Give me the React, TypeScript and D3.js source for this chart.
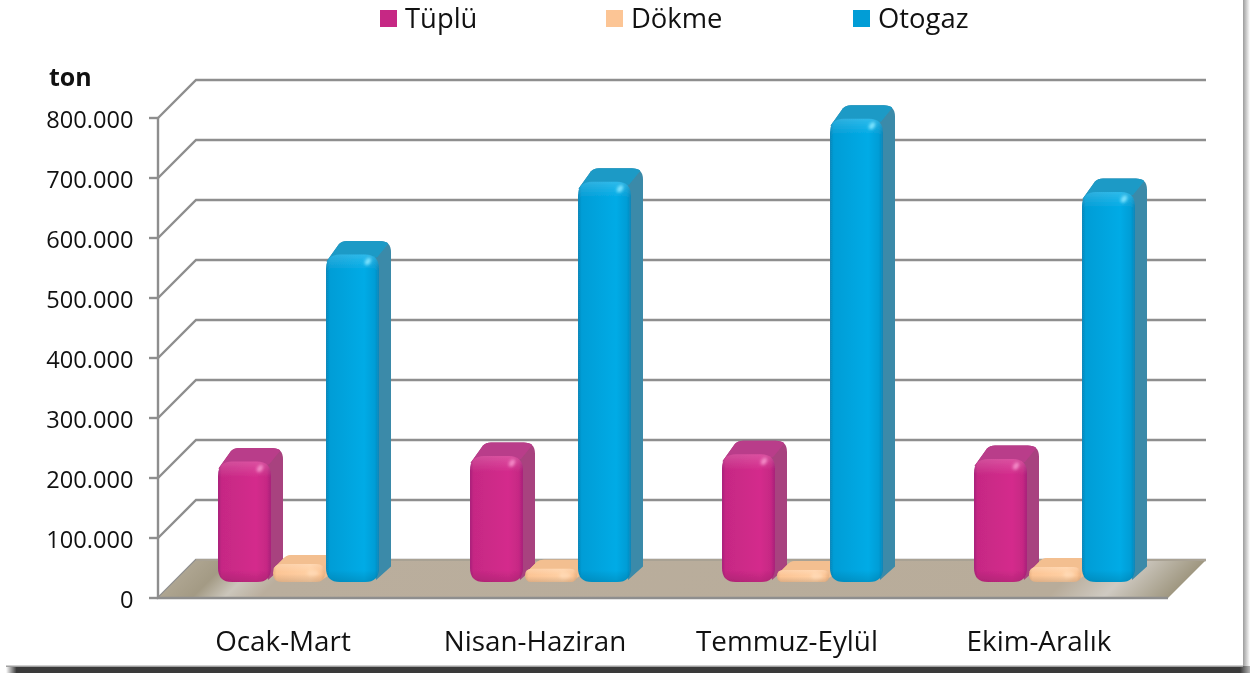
import React from "react";
import * as d3 from "d3";

const categories = ["Ocak-Mart", "Nisan-Haziran", "Temmuz-Eylül", "Ekim-Aralık"];
const seriesNames = ["Tüplü", "Dökme", "Otogaz"];
const tuplu = [201000, 210000, 213000, 205000];
const dokme = [30000, 22000, 20000, 25000];
const otogaz = [546000, 667000, 772000, 650000];
const ticks = [0, 100000, 200000, 300000, 400000, 500000, 600000, 700000, 800000];
const tickLabels = ["0", "100.000", "200.000", "300.000", "400.000", "500.000", "600.000", "700.000", "800.000"];

const W = 1250, H = 673;
const FONT = "'Open Sans', sans-serif";
const GRID = "#8e8e8e";
const depth = 38;
const x0 = 158, x1 = 1168, yBase = 598, yTop = 118;
const barBase = 582;
const barW = 53, barGap = 1;

const palette = [
  { front: "#c62884", bright: "#d42b8c", dark: "#a8207a", side: "#a8427f", top: "#b93c8a", spot: "#f48cc8" },
  { front: "#fcc595", bright: "#ffd0a4", dark: "#eab384", side: "#f0bd90", top: "#f3bf90", spot: "#ffe0c0" },
  { front: "#019dd6", bright: "#00abe6", dark: "#0a86b8", side: "#3a8aa9", top: "#1f9ac6", spot: "#7fe4ff" },
];

const yScale = d3.scaleLinear().domain([0, 800000]).range([yBase, yTop]);
const band = d3.scaleBand<string>().domain(categories).range([x0, x0 + 1008]).padding(0);
const seriesIdx = d3.scaleBand<number>().domain([0, 1, 2]).range([0, 3 * (barW + barGap)]).padding(0);
const values = [tuplu, dokme, otogaz];

function roundedRect(x: number, y: number, w: number, h: number, r: number) {
  const p = d3.path();
  const rr = Math.min(r, h / 2, w / 2);
  p.moveTo(x + rr, y);
  p.lineTo(x + w - rr, y);
  p.quadraticCurveTo(x + w, y, x + w, y + rr);
  p.lineTo(x + w, y + h - rr);
  p.quadraticCurveTo(x + w, y + h, x + w - rr, y + h);
  p.lineTo(x + rr, y + h);
  p.quadraticCurveTo(x, y + h, x, y + h - rr);
  p.lineTo(x, y + rr);
  p.quadraticCurveTo(x, y, x + rr, y);
  p.closePath();
  return p.toString();
}

function silhouette(x: number, y: number, w: number, h: number, dx: number, dy: number, r: number) {
  const p = d3.path();
  p.moveTo(x + 0.5, y + r * 0.5);
  p.lineTo(x + dx + 1, y - dy + 3);
  p.quadraticCurveTo(x + dx + 4, y - dy, x + dx + 9, y - dy);
  p.lineTo(x + w + dx - r * 0.8, y - dy);
  p.quadraticCurveTo(x + w + dx, y - dy, x + w + dx, y - dy + r * 0.8);
  p.lineTo(x + w + dx, y + h - dy - 2);
  p.lineTo(x + w - 3, y + h - 2);
  p.lineTo(x + w - r, y + r);
  p.closePath();
  return p.toString();
}

function topFace(x: number, y: number, w: number, dx: number, dy: number, r: number) {
  const p = d3.path();
  p.moveTo(x + 0.5, y + r * 0.5);
  p.lineTo(x + dx + 1, y - dy + 3);
  p.quadraticCurveTo(x + dx + 4, y - dy, x + dx + 9, y - dy);
  p.lineTo(x + w + dx - r * 0.8, y - dy);
  p.quadraticCurveTo(x + w + dx - 2, y - dy + 1, x + w + dx - 3, y - dy + 3);
  p.lineTo(x + w - 2, y + 3);
  p.closePath();
  return p.toString();
}

export default function App() {
  const bars = categories.flatMap((c, ci) =>
    values.map((vals, si) => {
      const low = si === 1;
      const bx = (band(c) as number) + 60 + (seriesIdx(si) as number) + (low ? 1 : 0);
      const by = yScale(vals[ci]) - (yBase - barBase);
      return { id: `b${ci}-${si}`, si, x: bx, y: by, w: low ? barW - 1 : barW, h: barBase - by, ci };
    })
  );
  const L = x1 - x0;
  return (
    <svg width={W} height={H} viewBox={`0 0 ${W} ${H}`} style={{ position: "absolute", left: 0, top: 0, display: "block" }}>
      <defs>
        <linearGradient id="floor" gradientUnits="userSpaceOnUse" x1={x0} y1={yBase} x2={x0 + L / 2} y2={yBase + L / 2}>
          <stop offset="0" stopColor="#aea591" />
          <stop offset="0.033" stopColor="#a39a84" />
          <stop offset="0.065" stopColor="#cbc6bb" />
          <stop offset="0.1" stopColor="#baae9d" />
          <stop offset="0.88" stopColor="#b8ac9a" />
          <stop offset="0.935" stopColor="#cfcac2" />
          <stop offset="1" stopColor="#9f9780" />
        </linearGradient>
        <linearGradient id="rightShadow" x1="0" x2="1" y1="0" y2="0">
          <stop offset="0" stopColor="#9c9c9c" />
          <stop offset="1" stopColor="#ffffff" />
        </linearGradient>
        <linearGradient id="bottomShadow" x1="0" x2="1" y1="0" y2="0">
          <stop offset="0" stopColor="#ffffff" />
          <stop offset="0.0085" stopColor="#3a3a3a" />
          <stop offset="0.992" stopColor="#3a3a3a" />
          <stop offset="1" stopColor="#b5b5b5" />
        </linearGradient>
        <filter id="soft" x="-10%" y="-10%" width="120%" height="120%">
          <feGaussianBlur stdDeviation="0.7" />
        </filter>
        <filter id="spot" x="-150%" y="-150%" width="400%" height="400%">
          <feGaussianBlur stdDeviation="1.4" />
        </filter>
        {palette.map((p, i) => (
          <linearGradient key={i} id={`h${i}`} x1="0" x2="1" y1="0" y2="0">
            <stop offset="0" stopColor={p.dark} />
            <stop offset="0.07" stopColor={p.front} />
            <stop offset="0.72" stopColor={p.bright} />
            <stop offset="0.92" stopColor={p.front} />
            <stop offset="1" stopColor={p.dark} />
          </linearGradient>
        ))}
        {bars.map((b) => (
          <linearGradient key={b.id} id={`v${b.id}`} gradientUnits="userSpaceOnUse" x1="0" x2="0" y1={b.y} y2={b.y + b.h}>
            <stop offset="0" stopColor="#ffffff" stopOpacity={0.18} />
            <stop offset={Math.min(0.45, 16 / b.h)} stopColor="#ffffff" stopOpacity={0} />
            <stop offset={Math.max(0.55, 1 - 12 / b.h)} stopColor="#000000" stopOpacity={0} />
            <stop offset="1" stopColor="#000000" stopOpacity={0.12} />
          </linearGradient>
        ))}
      </defs>

      <rect width={W} height={H} fill="#ffffff" />

      <g fill="none" stroke={GRID} strokeWidth={2.4}>
        {ticks.map((t) => {
          const y = yScale(t);
          return <path key={t} d={`M${x0},${y}L${x0 + depth},${y - depth}L${x1 + depth},${y - depth}`} />;
        })}
      </g>

      <path
        d={`M${x0},${yBase}L${x0 + depth},${yBase - depth}L${x1 + depth},${yBase - depth}L${x1},${yBase}Z`}
        fill="url(#floor)"
      />
      <path d={`M${x0 + depth},${yBase - depth}L${x1 + depth},${yBase - depth}`} stroke="#a9a294" strokeWidth={2} />

      <g stroke={GRID} strokeWidth={2.4} fill="none">
        <path d={`M${x0},${yTop}L${x0},${yBase}L${x1},${yBase}`} />
        {ticks.map((t) => (
          <path key={t} d={`M${x0 - 9},${yScale(t)}L${x0},${yScale(t)}`} />
        ))}
      </g>

      <g filter="url(#soft)">
        {bars.map((b) => {
          const p = palette[b.si];
          const low = b.si === 1;
          const dx = low ? 10 : 12, dy = low ? 9 : 13.5, r = low ? 9 : 14;
          return (
            <g key={b.id}>
              <path d={silhouette(b.x, b.y, b.w, b.h, dx, dy, r)} fill={p.side} />
              <path d={topFace(b.x, b.y, b.w, dx, dy, r)} fill={p.top} />
              <path d={roundedRect(b.x, b.y, b.w, b.h, r)} fill={`url(#h${b.si})`} />
              <path d={roundedRect(b.x, b.y, b.w, b.h, r)} fill={`url(#v${b.id})`} />
              {low ? (
                <ellipse cx={b.x + b.w - 12} cy={b.y + b.h / 2} rx={6} ry={3} fill={p.spot} fillOpacity={0.6} filter="url(#spot)" />
              ) : (
                <ellipse cx={b.x + b.w - 11} cy={b.y + 7} rx={2.6} ry={4} fill={p.spot} transform={`rotate(35 ${b.x + b.w - 11} ${b.y + 7})`} filter="url(#spot)" />
              )}
            </g>
          );
        })}
      </g>

      <g fontFamily={FONT} fontSize={23.6} fill="#111111" textAnchor="end">
        {ticks.map((t, i) => (
          <text key={t} x={133.5} y={yScale(t) + 10}>{tickLabels[i]}</text>
        ))}
      </g>
      <text x={49} y={86} fontFamily={FONT} fontSize={25} fontWeight={700} fill="#111111">ton</text>

      <g fontFamily={FONT} fontSize={27.8} fill="#111111" textAnchor="middle">
        {categories.map((c) => (
          <text key={c} x={(band(c) as number) + band.bandwidth() / 2 - 1} y={651}>{c}</text>
        ))}
      </g>

      <g fontFamily={FONT} fontSize={27.4} fill="#111111">
        {seriesNames.map((s, i) => {
          const lx = [380, 606, 853][i];
          return (
            <g key={s}>
              <rect x={lx} y={10} width={17} height={17} fill={palette[i].front} />
              <text x={lx + 25} y={28}>{s}</text>
            </g>
          );
        })}
      </g>

      <rect x={1243} y={0} width={7} height={666} fill="url(#rightShadow)" />
      <rect x={6} y={666} width={1244} height={7} fill="url(#bottomShadow)" />
      <rect x={6} y={665.5} width={1237} height={1.5} fill="#a0a0a0" />
    </svg>
  );
}
